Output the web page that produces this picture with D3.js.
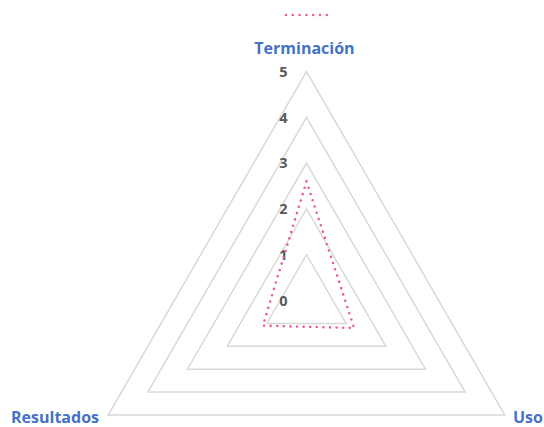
<!DOCTYPE html>
<html>
<head>
<meta charset="utf-8">
<script src="https://cdn.jsdelivr.net/npm/d3@7"></script>
<style>
  body { margin: 0; background: #fff; }
  svg { display: block; }
</style>
</head>
<body>
<svg id="chart"></svg>
<script>
// axes of the radar, clockwise from the top
var axes = ["Terminación", "Uso", "Resultados"];
var values = [2.6, 1.2, 1.1];
var ticks = [0, 1, 2, 3, 4, 5];

var width = 544;
var height = 427;
var cx = 306.5, cy = 300.5, radius = 229;

var svg = d3.select("#chart")
    .attr("width", width)
    .attr("height", height);

var r = d3.scaleLinear().domain([0, 5]).range([0, radius]);
var angle = d3.scalePoint().domain(axes).range([0, 2 * Math.PI * 2 / 3]);

function pt(axis, v) {
    var a = angle(axis);
    return [cx + r(v) * Math.sin(a), cy - r(v) * Math.cos(a)];
}

var g = svg.append("g");

// grid triangles
g.selectAll("path.grid")
    .data(ticks.filter(function(t) { return t > 0; }))
    .enter().append("path")
    .attr("class", "grid")
    .attr("d", function(t) {
        return "M" + axes.map(function(a) { return pt(a, t); }).join("L") + "Z";
    })
    .attr("fill", "none")
    .attr("stroke", "#d9d9d9")
    .attr("stroke-width", 1.5);

// tick labels
g.selectAll("text.tick")
    .data(ticks)
    .enter().append("text")
    .attr("x", cx - 23)
    .attr("y", function(t) { return cy - r(t); })
    .attr("dy", "0.36em")
    .attr("text-anchor", "middle")
    .attr("font-family", "'Open Sans', sans-serif")
    .attr("font-weight", "bold")
    .attr("font-size", 14.5)
    .attr("fill", "#595959")
    .text(function(t) { return t; });

// data polygon
var series = axes.map(function(a, i) { return pt(a, values[i]); });
g.append("path")
    .attr("d", "M" + series.join("L") + "Z")
    .attr("fill", "none")
    .attr("stroke", "#f0589f")
    .attr("stroke-width", 2.6)
    .attr("stroke-linecap", "round")
    .attr("stroke-dasharray", "0 6.6");

// axis labels
var lab = [
    { x: cx - 2, y: 54, anchor: "middle" },
    { x: 513, y: 423, anchor: "start" },
    { x: 99, y: 423, anchor: "end" }
];
g.selectAll("text.axis")
    .data(axes)
    .enter().append("text")
    .attr("x", function(d, i) { return lab[i].x; })
    .attr("y", function(d, i) { return lab[i].y; })
    .attr("text-anchor", function(d, i) { return lab[i].anchor; })
    .attr("font-family", "'Open Sans', sans-serif")
    .attr("font-weight", "bold")
    .attr("font-size", 16)
    .attr("fill", "#4472c4")
    .text(function(d) { return d; });

// legend (no series name)
svg.append("line")
    .attr("x1", 286).attr("x2", 327)
    .attr("y1", 15).attr("y2", 15)
    .attr("stroke", "#f0589f")
    .attr("stroke-width", 2.6)
    .attr("stroke-linecap", "round")
    .attr("stroke-dasharray", "0 6.8");
</script>
</body>
</html>
